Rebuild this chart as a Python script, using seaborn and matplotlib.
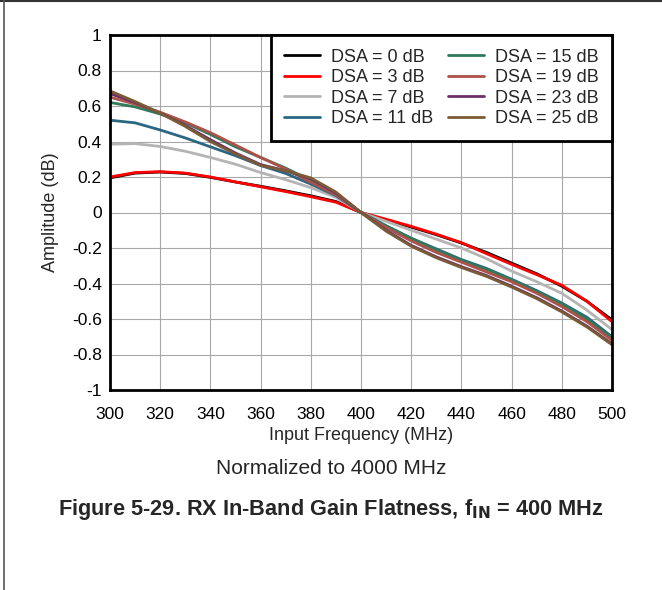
import numpy as np
import pandas as pd
import matplotlib
matplotlib.use('Agg')
import matplotlib.pyplot as plt
from matplotlib.lines import Line2D
from matplotlib.ticker import FixedLocator, FuncFormatter
import seaborn as sns

freq = [300, 310, 320, 330, 340, 350, 360, 370, 380, 390, 400,
        410, 420, 430, 440, 450, 460, 470, 480, 490, 500]

dsa_0 = [0.195, 0.222, 0.228, 0.220, 0.198, 0.172, 0.148, 0.122, 0.094, 0.062, 0.0,
         -0.042, -0.082, -0.125, -0.172, -0.225, -0.285, -0.345, -0.415, -0.500, -0.605]
dsa_3 = [0.200, 0.225, 0.230, 0.222, 0.200, 0.172, 0.145, 0.118, 0.089, 0.058, 0.0,
         -0.038, -0.078, -0.122, -0.170, -0.232, -0.292, -0.350, -0.410, -0.500, -0.615]
dsa_7 = [0.385, 0.388, 0.372, 0.345, 0.310, 0.272, 0.225, 0.185, 0.140, 0.085, 0.0,
         -0.050, -0.100, -0.150, -0.200, -0.260, -0.330, -0.390, -0.455, -0.550, -0.660]
dsa_11 = [0.520, 0.505, 0.465, 0.420, 0.370, 0.320, 0.265, 0.220, 0.160, 0.095, 0.0,
          -0.075, -0.145, -0.205, -0.265, -0.315, -0.376, -0.440, -0.510, -0.590, -0.700]
dsa_15 = [0.620, 0.595, 0.555, 0.505, 0.440, 0.370, 0.310, 0.250, 0.180, 0.105, 0.0,
          -0.075, -0.145, -0.210, -0.270, -0.320, -0.380, -0.445, -0.515, -0.600, -0.710]
dsa_19 = [0.650, 0.610, 0.565, 0.510, 0.450, 0.380, 0.310, 0.245, 0.170, 0.100, 0.0,
          -0.085, -0.160, -0.225, -0.280, -0.335, -0.390, -0.455, -0.530, -0.615, -0.720]
dsa_23 = [0.670, 0.620, 0.560, 0.490, 0.410, 0.335, 0.270, 0.235, 0.190, 0.110, 0.0,
          -0.100, -0.185, -0.250, -0.305, -0.355, -0.415, -0.480, -0.555, -0.640, -0.740]
dsa_25 = [0.685, 0.625, 0.560, 0.485, 0.400, 0.330, 0.265, 0.235, 0.195, 0.115, 0.0,
          -0.105, -0.190, -0.255, -0.310, -0.360, -0.420, -0.485, -0.560, -0.645, -0.745]

labels = ['DSA = 0 dB', 'DSA = 3 dB', 'DSA = 7 dB', 'DSA = 11 dB',
          'DSA = 15 dB', 'DSA = 19 dB', 'DSA = 23 dB', 'DSA = 25 dB']
series = [dsa_0, dsa_3, dsa_7, dsa_11, dsa_15, dsa_19, dsa_23, dsa_25]
colors = ['#000000', '#ff0000', '#b4b4b4', '#2c6683',
          '#2e7a5a', '#ad5249', '#6c2f6a', '#7a5b36']

df = pd.concat([pd.DataFrame({'freq': freq, 'amp': s, 'dsa': lab})
                for lab, s in zip(labels, series)], ignore_index=True)

sns.set_style('white')
plt.rcParams['font.family'] = ['Liberation Sans', 'DejaVu Sans']
plt.rcParams['axes.unicode_minus'] = False

fig = plt.figure(figsize=(6.62, 5.90), dpi=100)
ax = fig.add_axes([110 / 662, 1 - 390 / 590, 502 / 662, 355 / 590])

sns.lineplot(data=df, x='freq', y='amp', hue='dsa', hue_order=labels,
             palette=dict(zip(labels, colors)), estimator=None, sort=False,
             linewidth=2.0, ax=ax, legend=False)
for ln in ax.get_lines():
    ln.set_solid_joinstyle('round')

ax.set_xlim(300, 500)
ax.set_ylim(-1, 1)
ax.xaxis.set_major_locator(FixedLocator(np.arange(300, 501, 20)))
ax.yaxis.set_major_locator(FixedLocator(np.round(np.arange(-1, 1.01, 0.2), 1)))
ax.yaxis.set_major_formatter(FuncFormatter(lambda v, p: f'{v:g}' if abs(v) > 1e-9 else '0'))
ax.grid(True, color='#a8a8a8', linewidth=0.8)
ax.set_axisbelow(True)
ax.tick_params(axis='both', length=0, labelsize=12.5, colors='black')
ax.tick_params(axis='x', pad=12)
ax.tick_params(axis='y', pad=6)
for sp in ax.spines.values():
    sp.set_visible(True)
    sp.set_color('black')
    sp.set_linewidth(2)

ax.set_xlabel('Input Frequency (MHz)', fontsize=13, labelpad=4)
ax.set_ylabel('Amplitude (dB)', fontsize=13, labelpad=9)

handles = [Line2D([], [], color=c, linewidth=2) for c in colors]
leg = ax.legend(handles, labels, ncol=2, loc='upper right', fontsize=13,
                frameon=True, fancybox=False, borderaxespad=0,
                handlelength=2.0, handletextpad=0.6, columnspacing=0.8,
                labelspacing=0.2, borderpad=0.75)
leg.get_frame().set_edgecolor('black')
leg.get_frame().set_linewidth(2)
leg.get_frame().set_alpha(1)

fig.text(0.5, 1 - 468 / 590, 'Normalized to 4000 MHz', ha='center', va='center',
         fontsize=15)
fig.text(0.5, 1 - 509 / 590, r'Figure 5-29. RX In-Band Gain Flatness, f$_{\mathbf{IN}}$ = 400 MHz',
         ha='center', va='center', fontsize=15.7, fontweight='bold')

fig.add_artist(Line2D([0, 1], [0.999, 0.999], transform=fig.transFigure, color='#333333', linewidth=1.5))
fig.add_artist(Line2D([4 / 662, 4 / 662], [0, 1], transform=fig.transFigure, color='#555555', linewidth=1.2))

fig.savefig('out.png', dpi=100)
